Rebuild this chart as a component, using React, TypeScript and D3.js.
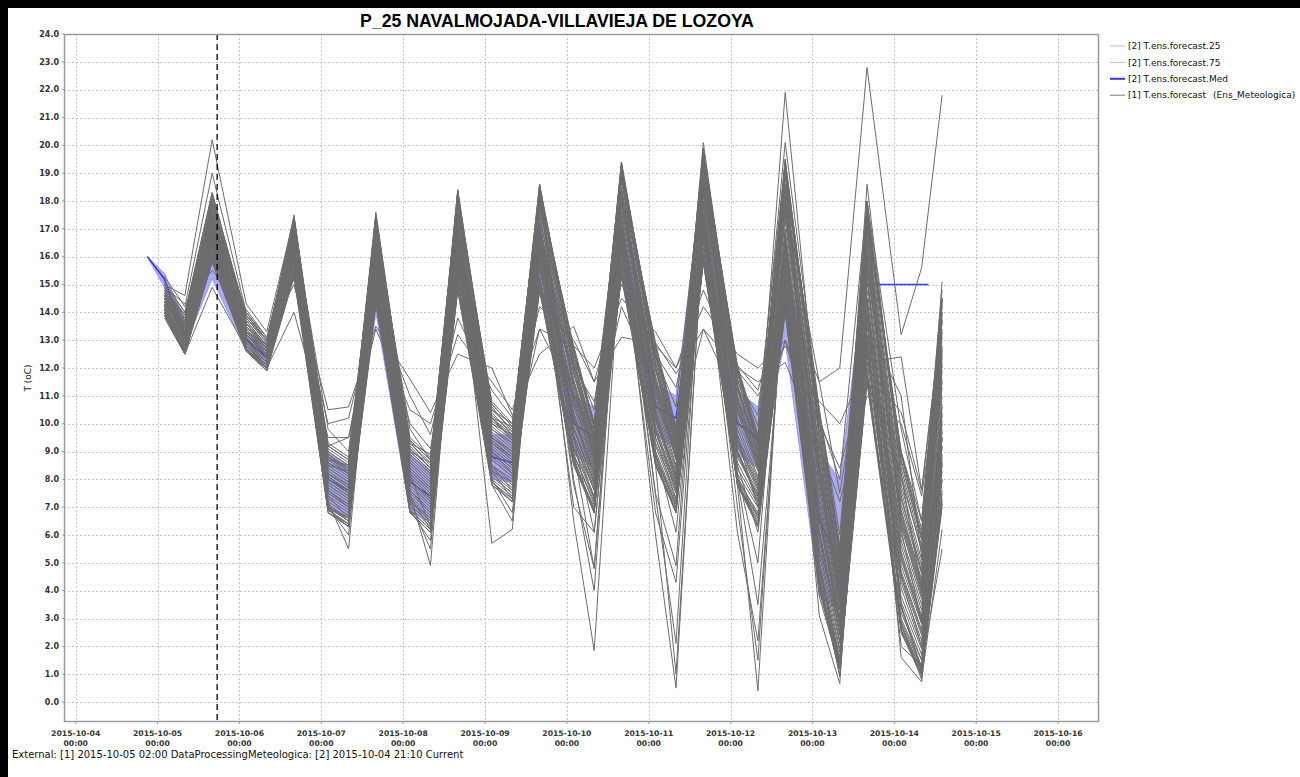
import React from "react";
import * as d3 from "d3";

// ---------- DATA ----------
const titleText = "P_25 NAVALMOJADA-VILLAVIEJA DE LOZOYA";
const footerText = "External: [1] 2015-10-05 02:00 DataProcessingMeteologica: [2] 2015-10-04 21:10 Current";
const yLabel = "T (oC)";
const legendLabels = [
  "[2] T.ens.forecast.25",
  "[2] T.ens.forecast.75",
  "[2] T.ens.forecast.Med",
  "[1] T.ens.forecast",
];
const legendSuffix = "(Ens_Meteologica)";
const xDomainText = ["2015-10-03 20:34", "2015-10-16 12:00"];
const xTickStart = "2015-10-04 00:00";
const xTickEnd = "2015-10-17 00:00";
const yTicks = [0, 1, 2, 3, 4, 5, 6, 7, 8, 9, 10, 11, 12, 13, 14, 15, 16, 17, 18, 19, 20, 21, 22, 23, 24];
const currentTime = "2015-10-05 17:28";

// [1] ensemble member times
const ensTimes = [
  "2015-10-05 02:00", "2015-10-05 08:00", "2015-10-05 16:00",
  "2015-10-06 02:00", "2015-10-06 08:00", "2015-10-06 16:00",
  "2015-10-07 02:00", "2015-10-07 08:00", "2015-10-07 16:00",
  "2015-10-08 02:00", "2015-10-08 08:00", "2015-10-08 16:00",
  "2015-10-09 02:00", "2015-10-09 08:00", "2015-10-09 16:00",
  "2015-10-10 02:00", "2015-10-10 08:00", "2015-10-10 16:00",
  "2015-10-11 02:00", "2015-10-11 08:00", "2015-10-11 16:00",
  "2015-10-12 02:00", "2015-10-12 08:00", "2015-10-12 16:00",
  "2015-10-13 02:00", "2015-10-13 08:00", "2015-10-13 16:00",
  "2015-10-14 02:00", "2015-10-14 08:00", "2015-10-14 14:00",
];

// [1] ensemble members (T in °C), one row per member
const members: number[][] = [
  [13.9, 12.6, 16.1, 12.8, 12.0, 15.7, 6.9, 6.4, 14.4, 7.1, 6.4, 14.9, 8.1, 7.5, 14.8, 9.2, 7.4, 15.9, 9.2, 7.3, 16.3, 8.2, 7.0, 15.0, 5.3, 1.9, 12.7, 3.8, 1.9, 8.6],
  [14.0, 12.6, 16.2, 12.8, 12.0, 15.8, 7.0, 6.5, 14.6, 7.2, 6.5, 15.1, 8.2, 7.6, 15.0, 8.9, 7.2, 15.5, 8.8, 7.1, 15.9, 7.8, 6.7, 14.5, 4.8, 1.6, 12.2, 3.4, 1.5, 8.0],
  [14.0, 12.7, 16.3, 12.8, 12.1, 15.9, 7.1, 6.6, 14.7, 7.3, 6.6, 15.2, 8.3, 7.7, 15.2, 9.8, 7.8, 16.5, 9.7, 7.7, 16.9, 8.8, 7.4, 15.7, 6.0, 2.4, 13.5, 4.5, 2.4, 9.5],
  [14.1, 12.7, 16.4, 12.9, 12.1, 16.0, 7.2, 6.7, 14.9, 7.4, 6.7, 15.4, 8.4, 7.8, 15.3, 9.1, 7.3, 15.7, 9.0, 7.2, 16.1, 8.0, 6.8, 14.7, 5.0, 1.8, 12.5, 3.6, 1.7, 8.3],
  [14.1, 12.8, 16.5, 12.9, 12.2, 16.1, 7.3, 6.8, 15.0, 7.5, 6.8, 15.6, 8.5, 7.9, 15.5, 10.1, 8.0, 16.8, 10.1, 7.9, 17.2, 9.2, 7.6, 16.1, 6.5, 2.7, 14.0, 4.9, 2.8, 10.1],
  [14.2, 12.8, 16.6, 13.0, 12.2, 16.2, 7.4, 6.9, 15.2, 7.6, 6.9, 15.8, 8.7, 8.1, 15.7, 9.4, 7.6, 16.1, 9.3, 7.5, 16.5, 8.4, 7.1, 15.2, 5.5, 2.1, 13.0, 4.1, 2.0, 8.9],
  [14.2, 12.9, 16.6, 13.0, 12.2, 16.2, 7.5, 7.0, 15.3, 7.7, 7.0, 15.8, 8.7, 8.1, 15.8, 10.4, 8.3, 17.2, 10.4, 8.2, 17.6, 9.6, 7.9, 16.6, 7.0, 3.0, 14.5, 5.4, 3.1, 10.7],
  [14.2, 12.9, 16.7, 13.0, 12.3, 16.3, 7.6, 7.1, 15.4, 7.8, 7.1, 16.0, 8.8, 8.2, 16.0, 9.6, 7.7, 16.3, 9.5, 7.6, 16.7, 8.6, 7.2, 15.4, 5.8, 2.2, 13.2, 4.3, 2.2, 9.2],
  [14.3, 12.9, 16.7, 13.1, 12.3, 16.3, 7.6, 7.1, 15.5, 7.8, 7.1, 16.1, 8.9, 8.3, 16.1, 10.8, 8.5, 17.6, 10.8, 8.4, 18.0, 10.0, 8.1, 17.0, 7.4, 3.3, 15.1, 5.8, 3.5, 11.3],
  [14.3, 13.0, 16.8, 13.1, 12.3, 16.4, 7.7, 7.2, 15.7, 7.9, 7.2, 16.3, 9.0, 8.4, 16.2, 9.9, 7.9, 16.6, 9.9, 7.8, 17.0, 9.0, 7.5, 15.9, 6.2, 2.5, 13.8, 4.7, 2.6, 9.8],
  [14.3, 13.0, 16.9, 13.1, 12.3, 16.5, 7.8, 7.3, 15.8, 8.0, 7.3, 16.3, 9.0, 8.4, 16.3, 11.1, 8.8, 18.0, 11.1, 8.7, 18.4, 10.4, 8.4, 17.5, 7.9, 3.6, 15.6, 6.3, 3.8, 11.9],
  [14.4, 13.1, 16.9, 13.2, 12.4, 16.5, 7.8, 7.3, 15.8, 8.0, 7.3, 16.4, 9.1, 8.5, 16.4, 10.3, 8.2, 17.0, 10.2, 8.1, 17.4, 9.4, 7.7, 16.3, 6.7, 2.8, 14.3, 5.2, 2.9, 10.4],
  [14.4, 13.1, 17.0, 13.2, 12.4, 16.6, 7.9, 7.4, 15.9, 8.1, 7.4, 16.5, 9.1, 8.5, 16.5, 11.5, 9.0, 18.4, 11.5, 8.9, 18.8, 10.8, 8.7, 18.0, 8.4, 3.9, 16.1, 6.7, 4.2, 12.5],
  [14.4, 13.1, 17.0, 13.2, 12.4, 16.6, 7.9, 7.4, 16.0, 8.1, 7.4, 16.6, 9.2, 8.6, 16.6, 10.6, 8.4, 17.4, 10.6, 8.3, 17.8, 9.8, 8.0, 16.8, 7.2, 3.1, 14.8, 5.6, 3.3, 11.0],
  [14.4, 13.1, 17.0, 13.2, 12.4, 16.6, 8.0, 7.5, 16.1, 8.2, 7.5, 16.7, 9.3, 8.7, 16.7, 9.8, 7.9, 16.5, 9.8, 7.8, 17.0, 8.9, 7.4, 15.8, 6.1, 2.4, 13.6, 4.6, 2.5, 9.7],
  [14.5, 13.2, 17.1, 13.2, 12.4, 16.7, 8.0, 7.5, 16.2, 8.2, 7.5, 16.8, 9.3, 8.7, 16.8, 10.9, 8.6, 17.8, 11.0, 8.5, 18.2, 10.2, 8.3, 17.3, 7.7, 3.4, 15.3, 6.0, 3.7, 11.6],
  [14.5, 13.2, 17.1, 13.3, 12.5, 16.7, 8.1, 7.6, 16.2, 8.3, 7.6, 16.9, 9.4, 8.8, 16.9, 11.6, 9.1, 18.5, 11.7, 9.0, 18.9, 11.0, 8.8, 18.2, 8.6, 4.0, 16.4, 6.9, 4.4, 12.8],
  [14.5, 13.2, 17.2, 13.3, 12.5, 16.8, 8.1, 7.6, 16.3, 8.3, 7.6, 16.9, 9.4, 8.8, 17.0, 10.3, 8.2, 17.1, 10.3, 8.1, 17.5, 9.5, 7.8, 16.5, 6.8, 2.9, 14.4, 5.3, 3.0, 10.6],
  [14.5, 13.2, 17.2, 13.3, 12.5, 16.8, 8.2, 7.7, 16.4, 8.4, 7.7, 17.0, 9.5, 8.9, 17.1, 11.3, 8.9, 18.2, 11.3, 8.8, 18.6, 10.6, 8.5, 17.7, 8.2, 3.7, 15.8, 6.5, 4.0, 12.2],
  [14.6, 13.3, 17.3, 13.3, 12.5, 16.9, 8.2, 7.7, 16.5, 8.4, 7.7, 17.1, 9.5, 8.9, 17.1, 11.8, 9.2, 18.7, 11.9, 9.1, 19.1, 11.2, 8.9, 18.4, 8.9, 4.2, 16.6, 7.1, 4.6, 13.1],
  [14.6, 13.3, 17.3, 13.4, 12.5, 16.9, 8.3, 7.8, 16.6, 8.5, 7.8, 17.2, 9.6, 9.0, 17.2, 10.2, 8.1, 16.9, 10.2, 8.0, 17.3, 9.3, 7.7, 16.2, 6.6, 2.7, 14.2, 5.1, 2.9, 10.3],
  [14.6, 13.3, 17.4, 13.4, 12.6, 17.0, 8.4, 7.9, 16.7, 8.6, 7.9, 17.4, 9.7, 9.1, 17.4, 12.0, 9.4, 18.9, 12.0, 9.3, 19.3, 11.4, 9.0, 18.6, 9.1, 4.3, 16.9, 7.4, 4.7, 13.4],
  [14.7, 13.4, 17.5, 13.4, 12.6, 17.1, 8.4, 7.9, 16.8, 8.6, 7.9, 17.5, 9.8, 9.2, 17.5, 11.2, 8.8, 18.1, 11.2, 8.7, 18.5, 10.5, 8.5, 17.6, 8.0, 3.6, 15.7, 6.4, 3.9, 12.1],
  [14.7, 13.4, 17.5, 13.5, 12.6, 17.1, 8.5, 8.0, 17.0, 8.7, 8.0, 17.6, 9.9, 9.3, 17.7, 12.1, 9.5, 19.1, 12.2, 9.4, 19.5, 11.6, 9.2, 18.9, 9.4, 4.5, 17.1, 7.6, 4.9, 13.7],
  [14.8, 13.5, 17.6, 13.5, 12.7, 17.2, 8.6, 8.1, 17.1, 8.8, 8.1, 17.8, 10.0, 9.4, 17.9, 11.4, 8.9, 18.3, 11.4, 8.8, 18.7, 10.7, 8.6, 17.8, 8.3, 3.8, 16.0, 6.6, 4.1, 12.4],
  [14.8, 13.5, 17.7, 13.6, 12.7, 17.3, 8.7, 8.2, 17.3, 8.9, 8.2, 18.0, 10.1, 9.5, 18.0, 12.3, 9.6, 19.3, 12.4, 9.5, 19.7, 11.8, 9.3, 19.1, 9.6, 4.6, 17.4, 7.8, 5.1, 14.0],
  [14.9, 13.6, 17.8, 13.6, 12.8, 17.4, 8.8, 8.3, 17.4, 9.0, 8.3, 18.1, 10.2, 9.6, 18.2, 11.5, 9.1, 18.4, 11.6, 9.0, 18.8, 10.9, 8.7, 18.1, 8.5, 3.9, 16.2, 6.8, 4.3, 12.7],
  [14.9, 13.7, 17.9, 13.7, 12.8, 17.5, 8.9, 8.4, 17.6, 9.1, 8.4, 18.3, 10.3, 9.7, 18.4, 11.9, 9.3, 18.8, 12.0, 9.2, 19.2, 11.3, 9.0, 18.5, 9.0, 4.2, 16.8, 7.3, 4.7, 13.3],
  [14.9, 13.8, 18.1, 13.8, 12.9, 17.4, 9.0, 8.5, 17.4, 9.3, 8.6, 18.3, 10.5, 9.8, 18.5, 12.5, 9.8, 19.3, 12.6, 9.6, 19.8, 11.8, 9.3, 19.4, 10.0, 5.2, 17.8, 8.6, 5.8, 14.2],
  [14.8, 13.7, 17.9, 13.9, 13.0, 17.2, 9.2, 8.7, 17.2, 9.4, 8.7, 18.1, 10.7, 9.9, 18.3, 12.7, 10.0, 19.0, 12.8, 9.8, 19.6, 12.0, 9.5, 19.2, 10.3, 5.5, 17.5, 8.9, 6.0, 14.4],
  [14.7, 13.9, 18.3, 13.7, 12.8, 17.3, 8.9, 8.3, 17.5, 9.1, 8.4, 18.4, 10.4, 9.6, 18.6, 12.3, 9.6, 19.4, 12.4, 9.4, 19.9, 11.6, 9.2, 19.5, 9.8, 5.0, 18.0, 8.4, 5.6, 14.0],
  [15.0, 14.0, 17.7, 14.0, 13.1, 17.0, 9.3, 8.8, 17.0, 9.5, 8.8, 17.9, 10.8, 10.0, 18.1, 12.8, 10.0, 18.8, 12.9, 9.9, 19.4, 12.1, 9.6, 19.0, 10.5, 5.6, 17.2, 9.0, 6.2, 14.5],
  [14.6, 13.6, 18.0, 13.6, 12.7, 17.4, 8.8, 8.2, 17.3, 9.0, 8.3, 18.2, 10.2, 9.5, 18.4, 12.2, 9.5, 19.2, 12.2, 9.3, 19.7, 11.4, 9.0, 19.3, 9.6, 4.8, 17.7, 8.2, 5.4, 13.7],
  [14.9, 13.9, 18.2, 13.9, 13.0, 17.1, 9.1, 8.6, 17.1, 9.3, 8.5, 18.0, 10.6, 9.7, 18.2, 12.6, 9.9, 19.1, 12.7, 9.7, 19.5, 11.9, 9.4, 19.1, 10.1, 5.3, 17.4, 8.7, 5.9, 14.3],
  [13.9, 12.5, 15.8, 12.6, 11.9, 15.3, 6.8, 6.3, 14.3, 6.8, 6.1, 14.8, 7.8, 7.2, 14.8, 8.5, 6.8, 15.3, 8.5, 6.8, 15.8, 7.8, 6.3, 14.0, 4.0, 1.2, 11.5, 2.5, 1.0, 7.0],
  [14.0, 12.6, 16.0, 12.7, 11.9, 15.5, 6.9, 6.4, 14.5, 6.9, 6.2, 15.0, 7.9, 7.3, 15.0, 8.7, 6.9, 15.5, 8.7, 6.9, 16.0, 7.9, 6.5, 14.3, 4.2, 1.3, 11.8, 2.7, 1.1, 7.3],
  [13.9, 12.5, 15.9, 12.6, 12.0, 15.4, 7.0, 6.5, 14.4, 7.0, 6.3, 14.9, 8.0, 7.4, 14.9, 8.6, 7.0, 15.4, 8.8, 7.0, 15.9, 8.0, 6.6, 14.1, 4.4, 1.4, 11.6, 2.9, 1.2, 7.5],
  [14.1, 12.7, 16.1, 12.8, 12.0, 15.6, 6.8, 6.4, 14.6, 6.8, 6.1, 15.1, 7.8, 7.2, 15.1, 8.8, 6.8, 15.6, 8.6, 6.8, 16.1, 7.8, 6.3, 14.4, 4.1, 1.2, 12.0, 2.6, 1.0, 7.2],
  [13.9, 12.6, 15.8, 12.7, 11.9, 15.3, 6.9, 6.3, 14.3, 6.9, 6.2, 14.8, 7.9, 7.3, 14.8, 8.5, 6.9, 15.3, 8.5, 6.9, 15.8, 7.9, 6.4, 14.0, 4.3, 1.3, 11.5, 2.8, 1.1, 7.1],
  [14.0, 12.5, 15.9, 12.6, 12.0, 15.4, 7.1, 6.5, 14.5, 7.1, 6.4, 14.9, 8.1, 7.5, 14.9, 8.9, 7.1, 15.4, 8.9, 7.1, 15.9, 8.1, 6.7, 14.2, 4.6, 1.5, 11.7, 3.0, 1.3, 7.6],
  [14.2, 12.5, 18.2, 12.6, 11.9, 17.4, 6.8, 6.3, 17.5, 6.8, 6.1, 18.4, 7.9, 7.2, 18.6, 8.6, 6.8, 19.4, 8.6, 6.8, 19.9, 7.9, 6.3, 19.5, 4.1, 1.2, 18.0, 2.6, 1.0, 14.5],
  [14.9, 13.9, 15.9, 13.8, 13.0, 15.4, 9.2, 8.7, 14.4, 9.4, 8.7, 14.9, 10.7, 9.9, 14.9, 12.7, 10.0, 15.4, 12.7, 9.8, 15.9, 11.9, 9.4, 14.1, 10.4, 5.4, 11.6, 8.9, 6.0, 7.1],
  [14.4, 13.1, 17.0, 13.2, 12.5, 16.8, 8.0, 7.6, 16.5, 8.3, 7.6, 17.0, 9.3, 8.8, 17.2, 10.7, 8.7, 18.0, 10.8, 9.0, 18.4, 10.4, 9.3, 18.0, 11.5, 12.0, 22.8, 13.2, 15.6, 21.8],
  [15.0, 14.6, 20.2, 14.3, 13.3, 17.4, 8.6, 8.2, 17.5, 8.9, 8.2, 18.4, 10.0, 9.6, 18.6, 11.8, 9.5, 19.4, 12.0, 9.2, 20.1, 11.3, 9.0, 21.9, 9.5, 4.5, 18.6, 8.0, 5.5, 15.1],
  [15.3, 14.2, 19.0, 14.0, 13.0, 17.3, 8.8, 8.4, 17.4, 9.2, 8.4, 18.2, 10.2, 9.9, 18.4, 12.5, 10.0, 19.2, 12.5, 9.8, 19.8, 11.9, 9.9, 20.1, 10.5, 6.0, 17.6, 9.0, 6.5, 14.5],
  [13.8, 12.5, 14.9, 12.7, 12.0, 14.0, 9.5, 9.5, 13.4, 10.5, 10.0, 13.2, 11.5, 10.5, 13.4, 12.8, 12.0, 14.5, 13.3, 12.0, 14.2, 12.5, 12.0, 13.0, 10.0, 8.4, 12.0, 10.4, 7.6, 13.8],
  [15.1, 14.0, 18.3, 13.8, 12.9, 15.2, 10.5, 10.6, 13.5, 11.6, 10.4, 12.5, 12.0, 10.3, 12.5, 13.5, 11.5, 13.1, 12.9, 11.8, 13.4, 12.0, 11.5, 12.2, 9.2, 7.2, 11.0, 10.0, 7.4, 12.6],
  [14.2, 12.8, 16.6, 13.0, 12.2, 16.5, 7.4, 6.6, 16.3, 7.4, 6.2, 16.9, 8.3, 7.3, 17.1, 6.5, 1.85, 16.8, 7.5, 4.9, 17.6, 8.2, 5.0, 16.9, 5.0, 1.4, 15.4, 3.4, 1.1, 9.2],
  [14.0, 12.6, 16.5, 12.9, 12.1, 16.2, 7.2, 5.5, 15.8, 7.2, 5.5, 16.0, 7.8, 6.5, 16.5, 7.8, 4.8, 17.0, 6.0, 0.5, 17.3, 7.0, 1.5, 16.2, 4.2, 1.0, 13.9, 2.5, 0.9, 8.6],
  [14.3, 12.9, 17.0, 13.1, 12.3, 16.7, 7.6, 7.0, 16.3, 7.5, 4.9, 16.6, 5.7, 6.2, 16.8, 8.0, 4.0, 17.5, 7.4, 2.1, 18.0, 7.8, 0.4, 16.5, 3.1, 0.66, 14.5, 1.6, 0.72, 8.0],
  [14.5, 13.0, 16.8, 13.2, 12.4, 16.4, 7.0, 6.0, 15.6, 6.9, 5.8, 15.8, 8.0, 6.8, 16.0, 7.0, 6.1, 16.4, 6.8, 4.3, 16.8, 6.1, 2.2, 15.5, 3.8, 1.2, 13.0, 2.0, 1.3, 5.5],
  [14.6, 13.3, 17.2, 13.4, 12.6, 16.9, 8.2, 7.8, 16.7, 8.2, 6.3, 17.0, 9.0, 8.2, 17.2, 9.0, 4.8, 17.1, 8.5, 1.0, 17.0, 8.0, 3.5, 15.0, 4.5, 0.9, 12.8, 2.8, 0.8, 6.2],
  [14.3, 13.8, 16.2, 13.9, 13.0, 15.2, 9.2, 9.5, 14.6, 10.0, 9.1, 14.8, 10.5, 10.0, 15.0, 12.0, 10.8, 15.5, 12.5, 11.3, 15.8, 12.1, 11.2, 14.6, 11.5, 7.5, 13.5, 11.0, 5.2, 11.5],
  [14.9, 14.3, 15.5, 14.1, 13.1, 15.0, 10.0, 10.2, 14.2, 11.0, 9.6, 13.8, 11.2, 10.2, 14.2, 13.0, 11.5, 15.0, 12.8, 12.0, 14.8, 11.9, 11.0, 12.8, 10.8, 10.0, 12.2, 12.4, 7.6, 14.0],
  [14.1, 12.7, 16.0, 13.0, 12.2, 15.5, 8.5, 8.3, 14.8, 9.0, 8.6, 15.0, 9.5, 9.0, 13.4, 11.0, 9.8, 14.2, 11.5, 9.5, 13.4, 10.8, 9.5, 13.0, 8.5, 5.0, 11.5, 8.2, 4.0, 9.5],
  [14.4, 13.2, 16.9, 13.3, 12.5, 16.2, 8.0, 7.5, 15.4, 8.0, 7.2, 15.5, 8.5, 7.6, 15.2, 9.5, 6.1, 15.5, 9.0, 6.1, 16.0, 8.5, 6.1, 14.2, 6.0, 2.5, 12.5, 4.5, 2.0, 8.5],
  [14.6, 13.4, 17.4, 13.5, 12.7, 17.0, 9.8, 9.0, 16.9, 9.8, 8.7, 17.5, 10.2, 9.4, 17.8, 12.3, 10.5, 18.8, 12.4, 10.6, 19.4, 11.5, 10.3, 19.4, 10.2, 8.0, 18.0, 9.8, 6.5, 14.8],
  [14.2, 13.6, 16.7, 13.1, 12.3, 16.0, 8.7, 8.5, 15.0, 9.3, 8.9, 15.3, 9.8, 9.3, 15.0, 11.0, 8.8, 15.9, 10.5, 8.0, 16.0, 9.5, 7.0, 15.0, 5.5, 3.0, 13.2, 6.2, 2.8, 10.0],
  [14.7, 13.5, 17.9, 13.6, 12.7, 17.3, 7.0, 6.6, 17.3, 7.2, 6.6, 18.0, 8.3, 7.9, 18.2, 9.5, 7.3, 19.1, 9.5, 7.3, 19.5, 9.0, 7.3, 19.0, 5.0, 1.5, 17.2, 3.2, 1.5, 9.5],
  [14.0, 12.5, 16.2, 12.7, 12.0, 15.9, 7.5, 7.0, 15.1, 7.6, 6.8, 15.6, 8.5, 8.0, 15.7, 9.6, 7.6, 16.2, 9.7, 7.6, 16.6, 9.0, 7.2, 15.2, 4.8, 1.3, 12.9, 3.5, 1.2, 8.8],
];

// [2] ensemble percentiles
const ens2Times = [
  "2015-10-04 21:00",
  "2015-10-05 02:00", "2015-10-05 08:00", "2015-10-05 16:00",
  "2015-10-06 02:00", "2015-10-06 08:00", "2015-10-06 16:00",
  "2015-10-07 02:00", "2015-10-07 08:00", "2015-10-07 16:00",
  "2015-10-08 02:00", "2015-10-08 08:00", "2015-10-08 16:00",
  "2015-10-09 02:00", "2015-10-09 08:00", "2015-10-09 16:00",
  "2015-10-10 02:00", "2015-10-10 08:00", "2015-10-10 16:00",
  "2015-10-11 02:00", "2015-10-11 08:00", "2015-10-11 16:00",
  "2015-10-12 02:00", "2015-10-12 08:00", "2015-10-12 16:00",
  "2015-10-13 02:00", "2015-10-13 08:00", "2015-10-13 15:30",
  "2015-10-14 10:00",
];
const p25: (number | null)[] = [16.0, 14.9, 12.8, 15.2, 12.6, 12.0, 15.8, 6.9, 6.6, 14.0, 6.8, 6.5, 15.9, 8.0, 7.9, 15.0, 8.9, 8.4, 15.5, 9.6, 9.1, 15.8, 8.9, 8.4, 13.0, 3.8, 3.3, 14.6, null];
const pMed: (number | null)[] = [16.0, 15.2, 13.2, 16.4, 13.0, 12.4, 16.4, 8.0, 7.6, 14.8, 7.9, 7.4, 17.0, 8.8, 8.6, 16.5, 10.0, 9.5, 17.0, 10.6, 10.2, 17.1, 10.0, 9.5, 14.4, 6.5, 5.0, 15.0, 15.0];
const p75: (number | null)[] = [16.0, 15.4, 13.7, 17.6, 13.3, 12.9, 16.9, 9.0, 8.5, 15.6, 8.9, 8.3, 17.6, 9.6, 9.6, 17.8, 11.0, 10.6, 18.3, 11.4, 11.0, 19.0, 11.2, 10.6, 16.3, 9.0, 8.0, 15.4, null];

// ---------- LAYOUT ----------
const W = 1300;
const H = 777;
const PL = 64;
const PR = 1099;
const PT = 34;
const PB = 722;
const Y0 = 702; // pixel of 0.0

const parse = d3.timeParse("%Y-%m-%d %H:%M");
const fmtDate = d3.timeFormat("%Y-%m-%d");
const fmtHour = d3.timeFormat("%H:%M");

const GRAY = "#6c6c6c";
const LAV = "#a9a9f4";
const LAV_LINE = "#9d9deb";
const BLUE = "#3535ff";
const FONT = "'DejaVu Sans', Verdana, sans-serif";

export default function App() {
  const x = d3
    .scaleTime()
    .domain([parse(xDomainText[0])!, parse(xDomainText[1])!])
    .range([PL, PR]);
  const y = d3.scaleLinear().domain([0, 24]).range([Y0, PT]);

  const tE = ensTimes.map((s) => parse(s)!);
  const t2 = ens2Times.map((s) => parse(s)!);
  const xTicks = d3.timeDay.range(parse(xTickStart)!, parse(xTickEnd)!);

  const memberLine = d3
    .line<number>()
    .x((_, i) => x(tE[i]))
    .y((d) => y(d));

  const pctLine = d3
    .line<number | null>()
    .defined((d) => d != null)
    .x((_, i) => x(t2[i]))
    .y((d) => y(d as number));

  const bandIdx = p25.map((_, i) => i).filter((i) => p25[i] != null && p75[i] != null);
  const band = d3
    .area<number>()
    .x((i) => x(t2[i]))
    .y0((i) => y(p25[i] as number))
    .y1((i) => y(p75[i] as number));

  const xc = x(parse(currentTime)!);
  const legendY = (i: number) => 46 + i * 16.4;

  return (
    <div style={{ position: "absolute", left: 0, top: 0, width: W, height: H, overflow: "hidden" }}>
      <svg width={W} height={H} style={{ display: "block" }}>
        <rect x={0} y={0} width={W} height={H} fill="#000" />
        <rect x={8} y={8} width={W - 8} height={H - 8} fill="#fff" />
        <defs>
          <clipPath id="plotClip">
            <rect x={PL} y={PT} width={PR - PL} height={PB - PT} />
          </clipPath>
        </defs>

        {/* title */}
        <text
          x={557}
          y={26.5}
          textAnchor="middle"
          fontFamily="'Liberation Sans', Arial, sans-serif"
          fontWeight="bold"
          fontSize={17.7}
          fill="#000"
        >
          {titleText}
        </text>

        {/* grid */}
        <g stroke="#c4c4c4" strokeWidth={1} strokeDasharray="2,2">
          {yTicks.map((v) => (
            <line key={"gy" + v} x1={PL} x2={PR} y1={Math.round(y(v)) + 0.5} y2={Math.round(y(v)) + 0.5} />
          ))}
          {xTicks.map((d, i) => (
            <line key={"gx" + i} y1={PT} y2={PB} x1={Math.round(x(d)) + 0.5} x2={Math.round(x(d)) + 0.5} />
          ))}
        </g>

        <g clipPath="url(#plotClip)">
          {/* [2] interquartile band */}
          <path d={band(bandIdx) || ""} fill={LAV} stroke="none" />
          <path d={pctLine(p25) || ""} fill="none" stroke={LAV_LINE} strokeWidth={1} />
          <path d={pctLine(p75) || ""} fill="none" stroke={LAV_LINE} strokeWidth={1} />
          <path d={pctLine(pMed) || ""} fill="none" stroke={BLUE} strokeWidth={1.5} />

          {/* [1] ensemble members */}
          <g fill="none" stroke={GRAY} strokeWidth={1} strokeLinejoin="miter" strokeMiterlimit={3}>
            {members.map((m, i) => (
              <path key={"m" + i} d={memberLine(m) || ""} />
            ))}
          </g>

          {/* current time marker */}
          <line x1={xc} x2={xc} y1={PT} y2={PB} stroke="#000" strokeWidth={1.3} strokeDasharray="6,4" />
        </g>

        {/* frame */}
        <rect x={PL + 0.5} y={PT + 0.5} width={PR - PL - 1} height={PB - PT - 1} fill="none" stroke="#9a9a9a" strokeWidth={1.5} />

        {/* y axis ticks & labels */}
        <g fontFamily={FONT} fontSize={8} fontWeight="bold" fill="#333">
          {yTicks.map((v) => (
            <g key={"yt" + v}>
              <line x1={PL - 2} x2={PL} y1={y(v)} y2={y(v)} stroke="#9a9a9a" />
              <text x={PL - 5} y={y(v)} dy="0.35em" textAnchor="end">
                {v.toFixed(1)}
              </text>
            </g>
          ))}
        </g>
        <text
          transform={`translate(31,${(PT + PB) / 2}) rotate(-90)`}
          textAnchor="middle"
          fontFamily={FONT}
          fontSize={9}
          fill="#222"
        >
          {yLabel}
        </text>

        {/* x axis ticks & labels */}
        <g fontFamily={FONT} fontSize={7.7} fontWeight="bold" fill="#333" textAnchor="middle">
          {xTicks.map((d, i) => (
            <g key={"xt" + i}>
              <line x1={x(d)} x2={x(d)} y1={PB} y2={PB + 2} stroke="#9a9a9a" />
              <text x={x(d)} y={736}>
                {fmtDate(d)}
              </text>
              <text x={x(d)} y={745.5}>
                {fmtHour(d)}
              </text>
            </g>
          ))}
        </g>

        {/* footer */}
        <text x={12} y={758} fontFamily={FONT} fontSize={10} fill="#111">
          {footerText}
        </text>

        {/* legend */}
        <g fontFamily={FONT} fontSize={9} fill="#111">
          {legendLabels.map((lab, i) => {
            const cy = legendY(i);
            const stroke = i < 2 ? "#b6b6ea" : i === 2 ? BLUE : "#7a7a7a";
            const sw = i === 2 ? 2 : 1;
            return (
              <g key={"lg" + i}>
                <line x1={1110} x2={1125} y1={cy} y2={cy} stroke={stroke} strokeWidth={sw} />
                <text x={1128} y={cy} dy="0.35em">
                  {lab}
                </text>
                {i === 3 ? (
                  <text x={1213} y={cy} dy="0.35em">
                    {legendSuffix}
                  </text>
                ) : null}
              </g>
            );
          })}
        </g>
      </svg>
    </div>
  );
}
